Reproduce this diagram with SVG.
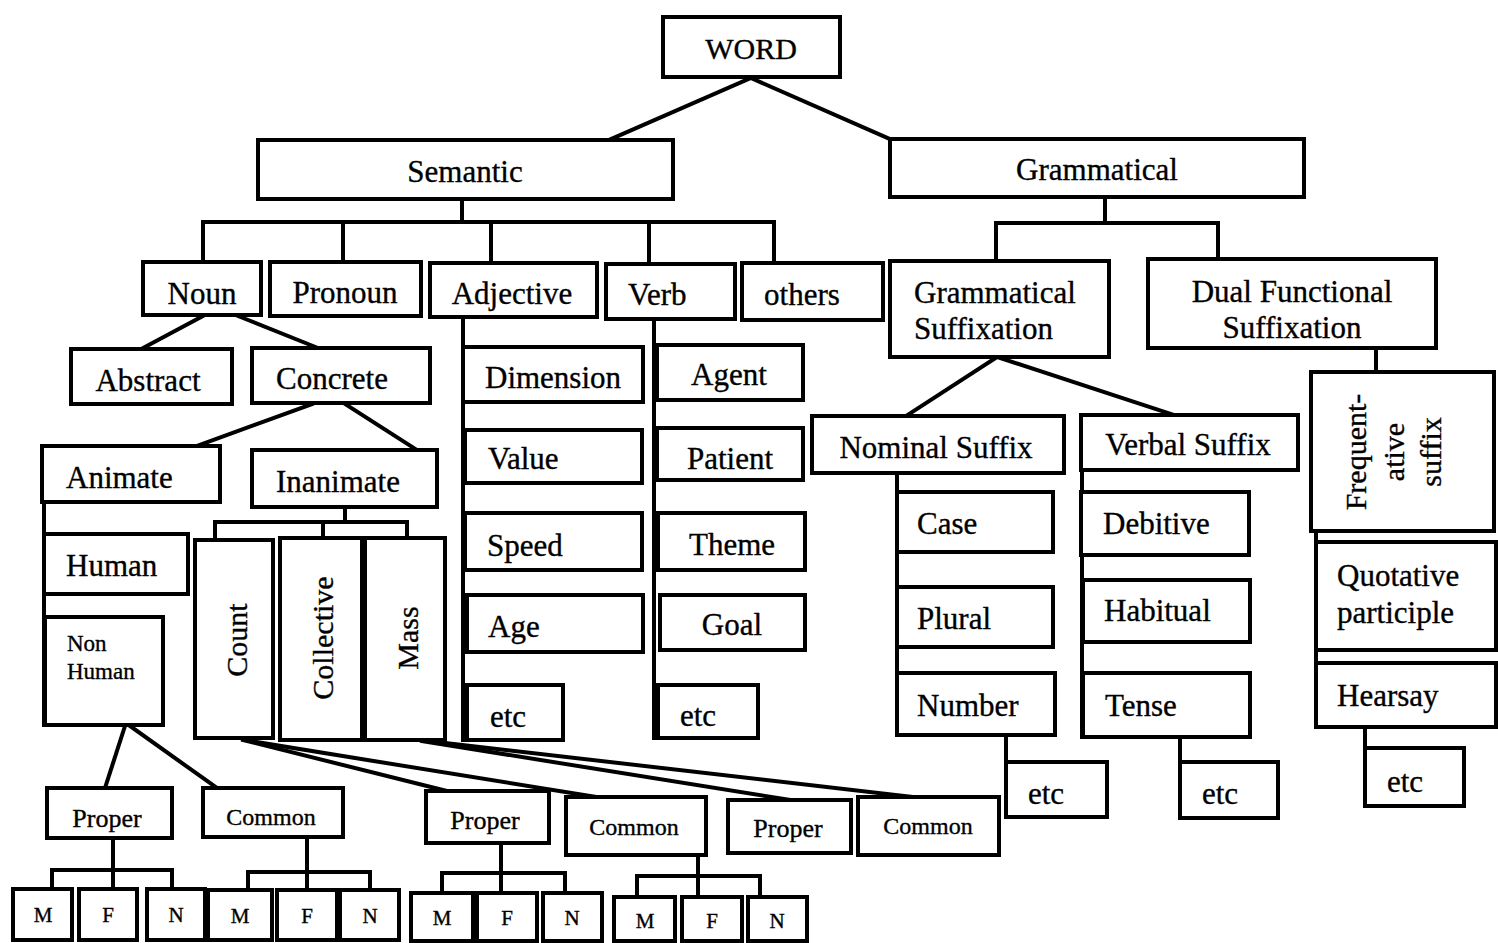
<svg xmlns="http://www.w3.org/2000/svg" width="1498" height="943" viewBox="0 0 1498 943">
  <style>
    rect { fill: #fff; stroke: #000; stroke-width: 4; }
    .c line, .c path { stroke: #000; stroke-width: 4; fill: none; stroke-linecap: square; }
    text { font-family: "Liberation Serif", "Times New Roman", serif; font-size: 31px; fill: #000; stroke: #000; stroke-width: 0.35; }
    .m { text-anchor: middle; }
    .s { text-anchor: start; }
    .sm { font-size: 23px; }
    .pc { font-size: 26px; }
    .cm { font-size: 24px; }
    .g { font-size: 21px; text-anchor: middle; }
    .v { font-size: 30px; text-anchor: middle; }
  </style>

  <!-- connectors -->
  <g id="connectors" class="c">
    <!-- WORD -->
    <line x1="751" y1="78" x2="611" y2="139"/>
    <line x1="751" y1="78" x2="890" y2="139"/>
    <!-- Semantic bracket -->
    <path d="M462 199 V222 M203 222 H774 M203 222 V262 M343 222 V262 M491 222 V262 M649 222 V263 M774 222 V263"/>
    <!-- Grammatical bracket -->
    <path d="M1105 197 V223 M996 223 H1218 M996 223 V261 M1218 223 V259"/>
    <!-- Noun -->
    <line x1="203" y1="316" x2="143" y2="348"/>
    <line x1="238" y1="316" x2="318" y2="348"/>
    <!-- Concrete -->
    <line x1="312" y1="404" x2="197" y2="446"/>
    <line x1="345" y1="404" x2="417" y2="450"/>
    <!-- Animate trunk -->
    <line x1="44" y1="502" x2="44" y2="725"/>
    <!-- Inanimate bracket -->
    <path d="M345 507 V522 M215 522 H407 M215 522 V540 M323 522 V538 M407 522 V538"/>
    <!-- Adjective and Verb trunks -->
    <line x1="463" y1="317" x2="463" y2="740"/>
    <line x1="654" y1="319" x2="654" y2="738"/>
    <!-- Non Human -->
    <line x1="125" y1="726" x2="105" y2="788"/>
    <line x1="130" y1="726" x2="217" y2="788"/>
    <!-- Count / Mass fan -->
    <line x1="243" y1="740" x2="447" y2="791"/>
    <line x1="250" y1="741" x2="596" y2="797"/>
    <line x1="422" y1="741" x2="790" y2="800"/>
    <line x1="428" y1="741" x2="913" y2="797"/>
    <!-- gender brackets -->
    <path d="M113 838 V870 M52 870 H172 M52 870 V889 M113 870 V889 M172 870 V889"/>
    <path d="M307 837 V872 M248 872 H370 M248 872 V890 M307 872 V890 M370 872 V890"/>
    <path d="M501 843 V873 M442 873 H565 M442 873 V893 M501 873 V893 M565 873 V893"/>
    <path d="M698 855 V876 M637 876 H760 M637 876 V897 M698 876 V897 M760 876 V897"/>
    <!-- Grammatical Suffixation -->
    <line x1="997" y1="357" x2="906" y2="416"/>
    <line x1="997" y1="357" x2="1174" y2="415"/>
    <!-- suffix trunks -->
    <line x1="897" y1="473" x2="897" y2="735"/>
    <line x1="1082" y1="470" x2="1082" y2="737"/>
    <line x1="1006" y1="735" x2="1006" y2="762"/>
    <line x1="1180" y1="737" x2="1180" y2="762"/>
    <!-- Dual Functional -->
    <line x1="1376" y1="348" x2="1376" y2="372"/>
    <line x1="1316" y1="531" x2="1316" y2="727"/>
    <line x1="1365" y1="727" x2="1365" y2="748"/>
  </g>

  <!-- top levels -->
  <g id="word"><rect x="663" y="17" width="177" height="60"/><text class="m" x="751" y="59" style="font-size:30px">WORD</text></g>
  <g id="semantic"><rect x="258" y="140" width="415" height="59"/><text class="m" x="465" y="182">Semantic</text></g>
  <g id="grammatical"><rect x="890" y="139" width="414" height="58"/><text class="m" x="1097" y="180">Grammatical</text></g>

  <!-- semantic classes -->
  <g id="noun"><rect x="143" y="262" width="118" height="53"/><text class="m" x="202" y="304">Noun</text></g>
  <g id="pronoun"><rect x="270" y="262" width="151" height="54"/><text class="m" x="345" y="303">Pronoun</text></g>
  <g id="adjective"><rect x="430" y="263" width="167" height="54"/><text class="m" x="512" y="304">Adjective</text></g>
  <g id="verb"><rect x="606" y="264" width="129" height="55"/><text class="s" x="628" y="305">Verb</text></g>
  <g id="others"><rect x="742" y="263" width="141" height="57"/><text class="m" x="802" y="305">others</text></g>

  <!-- grammatical classes -->
  <g id="grammatical-suffixation"><rect x="890" y="261" width="219" height="96"/>
    <text class="s" x="914" y="303">Grammatical</text><text class="s" x="914" y="339">Suffixation</text></g>
  <g id="dual-functional-suffixation"><rect x="1148" y="259" width="288" height="89"/>
    <text class="m" x="1292" y="302">Dual Functional</text><text class="m" x="1292" y="338">Suffixation</text></g>

  <!-- noun branch -->
  <g id="abstract"><rect x="71" y="349" width="161" height="55"/><text class="m" x="148" y="391">Abstract</text></g>
  <g id="concrete"><rect x="252" y="348" width="178" height="55"/><text class="m" x="332" y="389">Concrete</text></g>
  <g id="animate"><rect x="42" y="446" width="178" height="56"/><text class="s" x="66" y="488">Animate</text></g>
  <g id="inanimate"><rect x="252" y="450" width="185" height="57"/><text class="m" x="338" y="492">Inanimate</text></g>
  <g id="human"><rect x="44" y="534" width="144" height="60"/><text class="s" x="66" y="576">Human</text></g>
  <g id="non-human"><rect x="45" y="617" width="118" height="108"/>
    <text class="s sm" x="67" y="651">Non</text><text class="s sm" x="67" y="679">Human</text></g>
  <g id="count"><rect x="195" y="540" width="78" height="198"/><text class="v" x="236" y="651" transform="rotate(-90 236 640)">Count</text></g>
  <g id="collective"><rect x="280" y="538" width="82" height="202"/><text class="v" x="322" y="649" transform="rotate(-90 322 638)">Collective</text></g>
  <g id="mass"><rect x="365" y="538" width="80" height="202"/><text class="v" x="407" y="649" transform="rotate(-90 407 638)">Mass</text></g>

  <!-- adjective branch -->
  <g id="dimension"><rect x="463" y="347" width="180" height="55"/><text class="s" x="485" y="388">Dimension</text></g>
  <g id="value"><rect x="465" y="430" width="177" height="53"/><text class="s" x="488" y="469">Value</text></g>
  <g id="speed"><rect x="465" y="513" width="177" height="57"/><text class="s" x="487" y="556">Speed</text></g>
  <g id="age"><rect x="467" y="595" width="176" height="57"/><text class="s" x="488" y="637">Age</text></g>
  <g id="adj-etc"><rect x="467" y="685" width="96" height="55"/><text class="s" x="490" y="727">etc</text></g>

  <!-- verb branch -->
  <g id="agent"><rect x="657" y="345" width="146" height="55"/><text class="m" x="729" y="385">Agent</text></g>
  <g id="patient"><rect x="657" y="428" width="146" height="52"/><text class="m" x="730" y="469">Patient</text></g>
  <g id="theme"><rect x="658" y="513" width="147" height="57"/><text class="m" x="732" y="555">Theme</text></g>
  <g id="goal"><rect x="660" y="595" width="145" height="55"/><text class="m" x="732" y="635">Goal</text></g>
  <g id="verb-etc"><rect x="658" y="685" width="100" height="53"/><text class="s" x="680" y="726">etc</text></g>

  <!-- nominal / verbal suffixes -->
  <g id="nominal-suffix"><rect x="812" y="416" width="252" height="57"/><text class="m" x="936" y="458">Nominal Suffix</text></g>
  <g id="verbal-suffix"><rect x="1081" y="415" width="217" height="55"/><text class="m" x="1188" y="455">Verbal Suffix</text></g>
  <g id="case"><rect x="897" y="492" width="156" height="60"/><text class="s" x="917" y="534">Case</text></g>
  <g id="plural"><rect x="897" y="587" width="156" height="60"/><text class="s" x="917" y="629">Plural</text></g>
  <g id="number"><rect x="897" y="673" width="158" height="62"/><text class="s" x="917" y="716">Number</text></g>
  <g id="nominal-etc"><rect x="1006" y="762" width="101" height="55"/><text class="m" x="1046" y="804">etc</text></g>
  <g id="debitive"><rect x="1081" y="492" width="168" height="63"/><text class="s" x="1103" y="534">Debitive</text></g>
  <g id="habitual"><rect x="1083" y="580" width="167" height="62"/><text class="s" x="1104" y="621">Habitual</text></g>
  <g id="tense"><rect x="1083" y="673" width="167" height="64"/><text class="s" x="1105" y="716">Tense</text></g>
  <g id="verbal-etc"><rect x="1180" y="762" width="98" height="56"/><text class="m" x="1220" y="804">etc</text></g>

  <!-- dual functional branch -->
  <g id="frequentative-suffix"><rect x="1311" y="372" width="183" height="159"/>
    <text class="v" x="1355" y="463" transform="rotate(-90 1355 452)">Frequent-</text>
    <text class="v" x="1393" y="463" transform="rotate(-90 1393 452)">ative</text>
    <text class="v" x="1430" y="463" transform="rotate(-90 1430 452)">suffix</text></g>
  <g id="quotative-participle"><rect x="1316" y="542" width="180" height="108"/>
    <text class="s" x="1337" y="586">Quotative</text><text class="s" x="1337" y="623">participle</text></g>
  <g id="hearsay"><rect x="1316" y="663" width="180" height="64"/><text class="s" x="1337" y="706">Hearsay</text></g>
  <g id="dual-etc"><rect x="1365" y="748" width="99" height="58"/><text class="m" x="1405" y="792">etc</text></g>

  <!-- proper / common -->
  <g id="proper-1"><rect x="47" y="788" width="125" height="50"/><text class="m pc" x="107" y="827">Proper</text></g>
  <g id="common-1"><rect x="203" y="788" width="140" height="49"/><text class="m cm" x="271" y="825">Common</text></g>
  <g id="proper-2"><rect x="426" y="791" width="123" height="52"/><text class="m pc" x="485" y="829">Proper</text></g>
  <g id="common-2"><rect x="566" y="797" width="140" height="58"/><text class="m cm" x="634" y="835">Common</text></g>
  <g id="proper-3"><rect x="728" y="800" width="123" height="53"/><text class="m pc" x="788" y="837">Proper</text></g>
  <g id="common-3"><rect x="858" y="797" width="141" height="58"/><text class="m cm" x="928" y="834">Common</text></g>

  <!-- gender boxes -->
  <g id="m-1"><rect x="13" y="889" width="59" height="51"/><text class="g" x="43" y="922">M</text></g>
  <g id="f-1"><rect x="79" y="889" width="58" height="51"/><text class="g" x="108" y="922">F</text></g>
  <g id="n-1"><rect x="147" y="889" width="58" height="51"/><text class="g" x="176" y="922">N</text></g>
  <g id="m-2"><rect x="208" y="890" width="64" height="50"/><text class="g" x="240" y="923">M</text></g>
  <g id="f-2"><rect x="277" y="890" width="60" height="50"/><text class="g" x="307" y="923">F</text></g>
  <g id="n-2"><rect x="340" y="890" width="59" height="50"/><text class="g" x="370" y="923">N</text></g>
  <g id="m-3"><rect x="411" y="893" width="62" height="48"/><text class="g" x="442" y="925">M</text></g>
  <g id="f-3"><rect x="477" y="893" width="60" height="48"/><text class="g" x="507" y="925">F</text></g>
  <g id="n-3"><rect x="543" y="893" width="59" height="48"/><text class="g" x="572" y="925">N</text></g>
  <g id="m-4"><rect x="614" y="897" width="61" height="44"/><text class="g" x="645" y="928">M</text></g>
  <g id="f-4"><rect x="682" y="897" width="60" height="44"/><text class="g" x="712" y="928">F</text></g>
  <g id="n-4"><rect x="748" y="897" width="59" height="44"/><text class="g" x="777" y="928">N</text></g>
</svg>
